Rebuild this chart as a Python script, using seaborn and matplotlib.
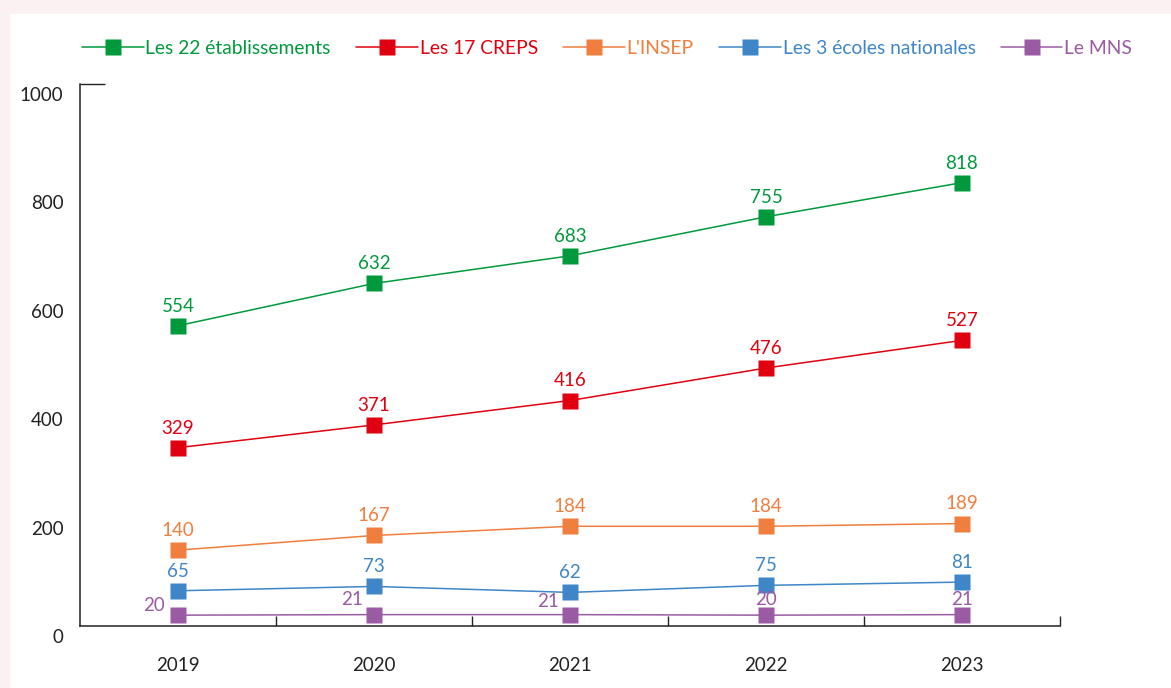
import pandas as pd
import matplotlib.pyplot as plt
import matplotlib.transforms as mtransforms
import seaborn as sns

years = ['2019', '2020', '2021', '2022', '2023']
series_names = ['Les 22 établissements', 'Les 17 CREPS', "L'INSEP",
                'Les 3 écoles nationales', 'Le MNS']
etablissements = [554, 632, 683, 755, 818]
creps = [329, 371, 416, 476, 527]
insep = [140, 167, 184, 184, 189]
ecoles = [65, 73, 62, 75, 81]
mns = [20, 21, 21, 20, 21]

colors = ['#009a3d', '#e1000f', '#f07e3f', '#3f86c8', '#9b5ba4']

rows = []
for name, vals in zip(series_names, [etablissements, creps, insep, ecoles, mns]):
    for i, v in enumerate(vals):
        rows.append({'year': i, 'value': v, 'serie': name})
df = pd.DataFrame(rows)

sns.set_style('white')
plt.rcParams['font.family'] = ['Lato', 'DejaVu Sans']

fig = plt.figure(figsize=(11.71, 6.88), dpi=100)
fig.patch.set_facecolor('#fcf1f2')
# white card with a faint pink edge
card = plt.Rectangle((10 / 1171, 0), 1, 1 - 14 / 688, transform=fig.transFigure,
                     facecolor='white', edgecolor='none', zorder=-10)
fig.add_artist(card)

ax = fig.add_axes([80 / 1171, 1 - 626 / 688, 980 / 1171, 542 / 688])
ax.set_facecolor('none')
ax.set_zorder(5)

sns.lineplot(data=df, x='year', y='value', hue='serie', hue_order=series_names,
             palette=colors, style='serie', markers=['s'] * 5, dashes=False,
             markersize=11, markeredgecolor='none', linewidth=1.1, ax=ax,
             legend=False)

# value labels (offsets in points)
label_offsets = {
    'Le MNS': [(-17, 1), (-16, 5), (-16, 3), (0, 5), (0, 5)],
}
for name, vals, c in zip(series_names, [etablissements, creps, insep, ecoles, mns], colors):
    offs = label_offsets.get(name, [(0, 8)] * 5)
    for i, v in enumerate(vals):
        dx, dy = offs[i]
        ax.annotate(str(v), (i, v), xytext=(dx, dy), textcoords='offset points',
                    ha='center', va='bottom', color=c, fontsize=13.5)

ax.set_xlim(-0.5, 4.5)
ax.set_ylim(0, 1000)
sns.despine(ax=ax)
for s in ['left', 'bottom']:
    ax.spines[s].set_color('#222222')
    ax.spines[s].set_linewidth(1.1)

ax.set_xticks(range(5))
ax.set_xticklabels(years)
ax.set_xticks([0.5, 1.5, 2.5, 3.5, 4.5], minor=True)
ax.tick_params(axis='x', which='major', length=0, pad=22, labelsize=13.5, labelcolor='#222222')
ax.tick_params(axis='x', which='minor', bottom=True, direction='in', length=7, width=1,
               color='#222222')

ax.yaxis.remove_overlapping_locs = False
ax.set_yticks(range(0, 1001, 200))
ax.set_yticks([1000], minor=True)
ax.tick_params(axis='y', which='major', length=0, pad=12, labelsize=13.5, labelcolor='#222222')
ax.tick_params(axis='y', which='minor', left=True, direction='in', length=18, width=1,
               color='#222222')
shift = mtransforms.ScaledTranslation(0, -10 / 100, fig.dpi_scale_trans)
for lab in ax.get_yticklabels():
    lab.set_transform(lab.get_transform() + shift)

ax.set_xlabel('')
ax.set_ylabel('')

handles = [plt.Line2D([], [], color=c, marker='s', markersize=11, markeredgecolor='none',
                      linewidth=1.1) for c in colors]
fig.legend(handles, series_names, loc='center left', bbox_to_anchor=(74 / 1171, 1 - 48 / 688),
           ncol=5, frameon=False, fontsize=13.9, labelcolor='linecolor',
           handlelength=3.2, handletextpad=0.1, columnspacing=1.3, borderaxespad=0)

fig.savefig('out.png', dpi=100, facecolor=fig.get_facecolor())
